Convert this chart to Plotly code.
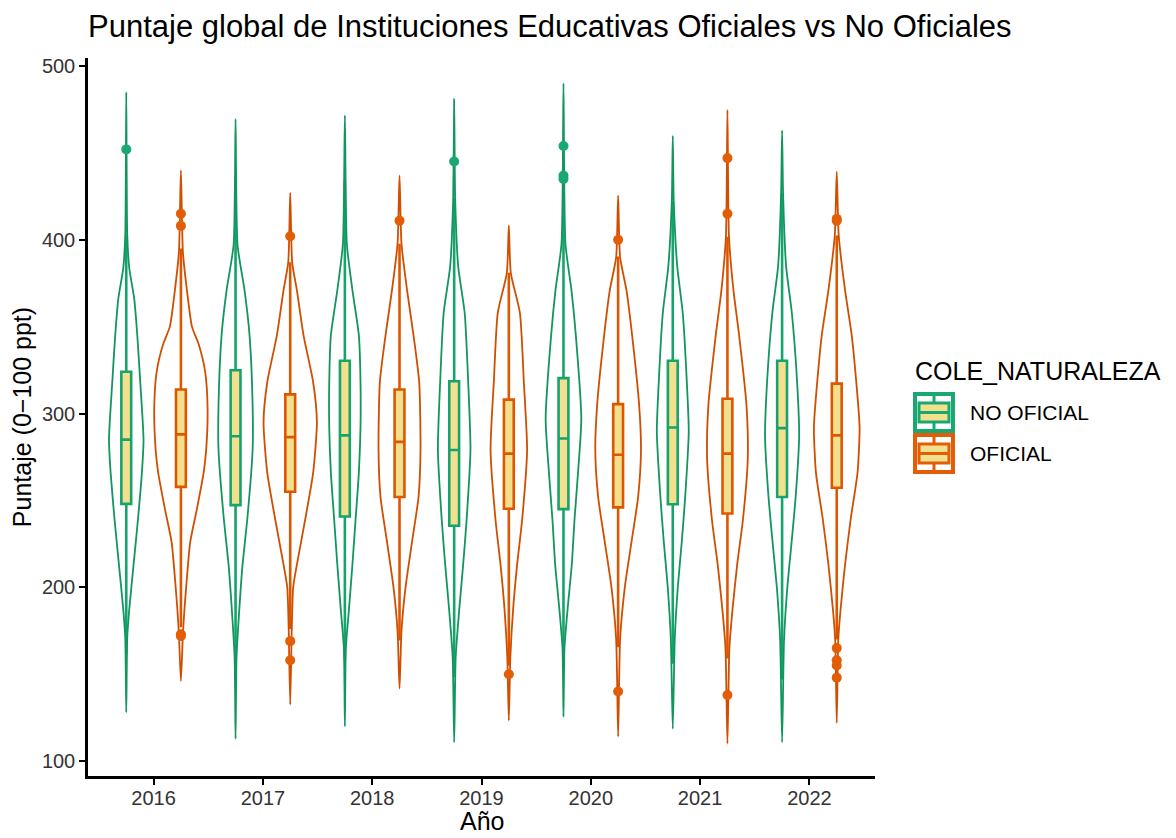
import plotly.graph_objects as go

# Years and groups
anios = [2016, 2017, 2018, 2019, 2020, 2021, 2022]
grupos = ["NO OFICIAL", "OFICIAL"]

# Box statistics (NO OFICIAL)
no_ofi_lf = [161.5, 147, 158, 148.3, 161.5, 156, 147]
no_ofi_q1 = [248, 247.3, 240.7, 235.4, 245, 247.8, 252]
no_ofi_med = [285, 286.9, 287.4, 279, 285.6, 292, 291.6]
no_ofi_q3 = [324, 324.9, 330.4, 318.6, 320.4, 330.4, 330.4]
no_ofi_uf = [403, 434, 434, 424, 426, 422, 427]

# Box statistics (OFICIAL)
ofi_lf = [177, 176, 169.4, 155, 165.5, 159, 170]
ofi_q1 = [257.8, 255, 252, 245.2, 246, 242.5, 257.3]
ofi_med = [288, 286.4, 283.7, 276.9, 276.3, 276.9, 287.4]
ofi_q3 = [313.8, 311, 313.8, 308, 305.4, 308.5, 317.2]
ofi_uf = [395, 387, 397.7, 381, 390.3, 401.7, 402.5]

# Outliers
no_ofi_out = {2016: [452], 2019: [445], 2020: [454, 437, 435]}
ofi_out = {2016: [415, 408, 173, 172], 2017: [402, 169, 158], 2018: [411],
           2019: [150], 2020: [400, 140], 2021: [447, 415, 138],
           2022: [412, 411, 165, 158, 155, 148]}

# Violin outlines: score levels (bottom -> top) and half-width of density (x units)
no_ofi_vy = {
    2016: [128, 171, 187, 213, 239, 266, 285, 318, 345, 366, 384, 403, 485],
    2017: [112.7, 160, 187, 213, 239, 279, 305, 345, 371, 397, 469.5],
    2018: [120, 165, 187, 213, 239, 266, 292, 318, 345, 371, 397.7, 471.6],
    2019: [110.8, 160, 187, 213, 239, 279, 318.6, 358, 384.5, 424, 480.9],
    2020: [125.4, 165, 187, 213, 239, 266, 297, 345, 371, 397.7, 490],
    2021: [118.5, 170, 200, 226, 252.6, 289.5, 318.6, 358, 384.5, 422, 459.8],
    2022: [110.8, 170, 200, 226, 252.6, 287, 318.6, 358, 384.5, 427, 463],
}
no_ofi_vw = {
    2016: [0, .009, .027, .067, .107, .143, .158, .128, .101, .073, .027, .009, 0],
    2017: [0, .009, .034, .064, .107, .156, .156, .128, .082, .018, 0],
    2018: [0, .009, .037, .069, .098, .128, .143, .143, .128, .069, .018, 0],
    2019: [0, .014, .046, .082, .114, .149, .128, .096, .037, .009, 0],
    2020: [0, .009, .037, .076, .101, .133, .163, .113, .073, .018, 0],
    2021: [0, .018, .046, .082, .114, .146, .128, .091, .041, .009, 0],
    2022: [0, .018, .048, .087, .125, .156, .137, .089, .037, .009, 0],
}
ofi_vy = {
    2016: [146, 173, 187, 200, 226, 245, 266, 279, 303, 324, 340, 350, 371, 393, 440],
    2017: [132.5, 176, 200, 213, 239, 266, 295, 318, 345, 371, 387, 427],
    2018: [141.7, 175, 200, 226, 252, 279, 318, 345, 371, 397.7, 437],
    2019: [123.3, 160, 187, 213, 239, 279, 318.6, 358, 381, 408.3],
    2020: [114, 170, 200, 226, 252, 279, 305, 345, 371, 390, 425.4],
    2021: [110, 165, 187, 213, 239, 274, 305, 345, 371, 401.7, 474.8],
    2022: [122, 170, 186.6, 213, 239.4, 265.8, 292, 318.6, 345, 371, 402.5, 439.2],
}
ofi_vw = {
    2016: [0, .018, .032, .048, .085, .146, .208, .231, .244, .222, .162, .101, .055, .018, 0],
    2017: [0, .014, .027, .061, .137, .210, .244, .210, .122, .061, .018, 0],
    2018: [0, .018, .055, .114, .174, .192, .180, .128, .069, .018, 0],
    2019: [0, .014, .039, .076, .122, .167, .137, .101, .018, 0],
    2020: [0, .018, .061, .122, .183, .209, .192, .128, .076, .018, 0],
    2021: [0, .018, .046, .089, .142, .186, .174, .107, .055, .014, 0],
    2022: [0, .014, .034, .076, .128, .190, .209, .178, .137, .076, .018, 0],
}

DODGE = 0.25
colores = {"NO OFICIAL": "#1aa872", "OFICIAL": "#e35d06"}
linea_violin = {"NO OFICIAL": "#12965f", "OFICIAL": "#d04e00"}
linea_caja = {"NO OFICIAL": "#17a36c", "OFICIAL": "#de5700"}
relleno_caja = "#f3e08e"

# the page body adds an 8px offset, so the figure is 8px smaller and margins compensate
OFF = 8
ML, MT, PW, PH = 88 - OFF, 58 - OFF, 787, 718
W, H = 1176 - OFF, 838 - OFF

fig = go.Figure()


def violin_path(vy, vw, sign):
    xs, ys = [], []
    for a in anios:
        c = a + sign * DODGE
        yv, wv = vy[a], vw[a]
        # right side going up, then left side coming down (shared end points)
        xs += [c + w for w in wv] + [c - w for w in wv[-2::-1]] + [None]
        ys += list(yv) + list(yv[-2::-1]) + [None]
    return xs, ys


# Violins
for g, vy, vw, s in [("NO OFICIAL", no_ofi_vy, no_ofi_vw, -1), ("OFICIAL", ofi_vy, ofi_vw, 1)]:
    xs, ys = violin_path(vy, vw, s)
    fig.add_trace(go.Scatter(x=xs, y=ys, mode="lines",
                             line=dict(color=linea_violin[g], width=1.8, shape="spline", smoothing=0.6),
                             showlegend=False, hoverinfo="skip"))

# Boxes
for g, lf, q1, med, q3, uf, s in [
        ("NO OFICIAL", no_ofi_lf, no_ofi_q1, no_ofi_med, no_ofi_q3, no_ofi_uf, -1),
        ("OFICIAL", ofi_lf, ofi_q1, ofi_med, ofi_q3, ofi_uf, 1)]:
    fig.add_trace(go.Box(
        x=[a + s * DODGE for a in anios],
        lowerfence=lf, q1=q1, median=med, q3=q3, upperfence=uf,
        name=g, width=0.09, whiskerwidth=0,
        line=dict(color=linea_caja[g], width=2.6),
        fillcolor=relleno_caja, boxpoints=False, showlegend=False,
    ))

# Outliers
for g, outs, s in [("NO OFICIAL", no_ofi_out, -1), ("OFICIAL", ofi_out, 1)]:
    xo, yo = [], []
    for a, vals in outs.items():
        xo += [a + s * DODGE] * len(vals)
        yo += vals
    fig.add_trace(go.Scatter(x=xo, y=yo, mode="markers",
                             marker=dict(color=colores[g], size=10),
                             showlegend=False))


# Legend drawn like the ggplot key (screen pixels -> paper coordinates)
def px_x(px):
    return (px - 88) / PW


def px_y(py):
    return (58 + PH - py) / PH


shapes = []
annots = [dict(text="COLE_NATURALEZA", x=px_x(913), y=px_y(371), xref="paper", yref="paper",
               xanchor="left", yanchor="middle", showarrow=False,
               font=dict(size=25, color="black")),
          dict(text="Año", x=0.5, y=px_y(821), xref="paper", yref="paper",
               xanchor="center", yanchor="middle", showarrow=False,
               font=dict(size=25, color="black"))]
for i, g in enumerate(grupos):
    top = 392 + i * 41
    x0, x1 = 913, 955
    cx = (x0 + x1) / 2
    col = colores[g]
    shapes.append(dict(type="rect", xref="paper", yref="paper", x0=px_x(x0), x1=px_x(x1),
                       y0=px_y(top), y1=px_y(top + 41), fillcolor=col, line=dict(width=0), layer="above"))
    shapes.append(dict(type="rect", xref="paper", yref="paper", x0=px_x(x0 + 4), x1=px_x(x1 - 4),
                       y0=px_y(top + 4), y1=px_y(top + 37), fillcolor="white", line=dict(width=0), layer="above"))
    shapes.append(dict(type="line", xref="paper", yref="paper", x0=px_x(cx), x1=px_x(cx),
                       y0=px_y(top + 4), y1=px_y(top + 37), line=dict(color=col, width=3), layer="above"))
    shapes.append(dict(type="rect", xref="paper", yref="paper", x0=px_x(x0 + 6), x1=px_x(x1 - 6),
                       y0=px_y(top + 11), y1=px_y(top + 30), fillcolor=relleno_caja,
                       line=dict(color=col, width=3), layer="above"))
    shapes.append(dict(type="line", xref="paper", yref="paper", x0=px_x(x0 + 6), x1=px_x(x1 - 6),
                       y0=px_y(top + 20.5), y1=px_y(top + 20.5), line=dict(color=col, width=3), layer="above"))
    annots.append(dict(text=g, x=px_x(968), y=px_y(top + 20.5), xref="paper", yref="paper",
                       xanchor="left", yanchor="middle", showarrow=False,
                       font=dict(size=21, color="black")))

fig.update_layout(
    width=W, height=H,
    paper_bgcolor="white", plot_bgcolor="white",
    margin=dict(l=ML, r=W - ML - PW, t=MT, b=H - MT - PH),
    font=dict(family="Liberation Sans, Arial, sans-serif", color="#333"),
    title=dict(text="Puntaje global de Instituciones Educativas Oficiales vs No Oficiales",
               x=ML / W, xanchor="left", xref="container", y=1 - 7 / H, yanchor="top",
               font=dict(size=31, color="black")),
    showlegend=False,
    shapes=shapes, annotations=annots,
    boxmode="overlay",
)
fig.update_xaxes(range=[2015.4, 2022.6], tickvals=anios, ticktext=[str(a) for a in anios],
                 showline=True, linecolor="black", linewidth=2.5, ticks="outside",
                 ticklen=6, tickwidth=2, tickcolor="black", tickfont=dict(size=20, color="#333"),
                 ticklabelstandoff=-4,
                 showgrid=False, zeroline=False, automargin=False)
fig.update_yaxes(range=[91.4, 504.6], tickvals=[100, 200, 300, 400, 500],
                 showline=True, linecolor="black", linewidth=2.5, ticks="outside",
                 ticklen=6, tickwidth=2, tickcolor="black", tickfont=dict(size=20, color="#333"),
                 title=dict(text="Puntaje (0−100 ppt)", font=dict(size=25, color="black"), standoff=6),
                 showgrid=False, zeroline=False, automargin=False)

fig.write_html("out.html")
